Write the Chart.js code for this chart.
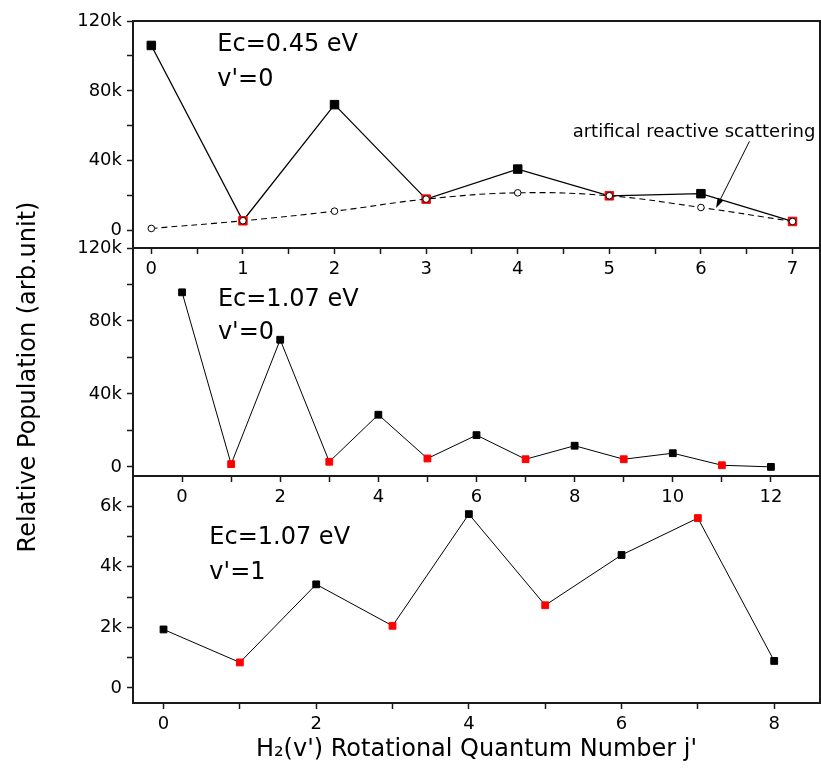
<!DOCTYPE html>
<html>
<head>
<meta charset="utf-8">
<script src="https://cdn.jsdelivr.net/npm/chart.js@4.4.1/dist/chart.umd.min.js"></script>
<style>
  html, body { margin: 0; padding: 0; background: #fff; }
  #wrap { position: relative; width: 821px; height: 784px; }
  #wrap canvas { position: absolute; left: 0; top: 0; }
</style>
</head>
<body>
<div id="wrap">
  <canvas id="low" width="821" height="784"></canvas>
  <canvas id="mid" width="821" height="784"></canvas>
  <canvas id="top" width="821" height="784"></canvas>
</div>
<script>
// Ec=0.45 eV, v'=0
const jTop = [0, 1, 2, 3, 4, 5, 6, 7];
const popTop = [106000, 5600, 72100, 18000, 35200, 19900, 21100, 5200];
const artificialTop = [1200, 5600, 11100, 18000, 21600, 19900, 13200, 5200];

// Ec=1.07 eV, v'=0
const jMid = [0, 1, 2, 3, 4, 5, 6, 7, 8, 9, 10, 11, 12];
const popMid = [95700, 1500, 69700, 2800, 28600, 4600, 17400, 4200, 11600, 4200, 7500, 900, 0];

// Ec=1.07 eV, v'=1
const jLow = [0, 1, 2, 3, 4, 5, 6, 7, 8];
const popLow = [1930, 840, 3420, 2050, 5740, 2730, 4390, 5610, 890];

// all tick positions, and the ones that get a label
const xTicksTop = [0, 0.5, 1, 1.5, 2, 2.5, 3, 3.5, 4, 4.5, 5, 5.5, 6, 6.5, 7];
const xLabelsTop = [0, 1, 2, 3, 4, 5, 6, 7];
const yTicksTop = [0, 20000, 40000, 60000, 80000, 100000, 120000];
const yLabelsTop = [0, 40000, 80000, 120000];

const xTicksMid = [0, 1, 2, 3, 4, 5, 6, 7, 8, 9, 10, 11, 12];
const xLabelsMid = [0, 2, 4, 6, 8, 10, 12];
const yTicksMid = [0, 20000, 40000, 60000, 80000, 100000, 120000];
const yLabelsMid = [0, 40000, 80000, 120000];

const xTicksLow = [0, 1, 2, 3, 4, 5, 6, 7, 8];
const xLabelsLow = [0, 2, 4, 6, 8];
const yTicksLow = [0, 1000, 2000, 3000, 4000, 5000, 6000];
const yLabelsLow = [0, 2000, 4000, 6000];

const FONT = '"DejaVu Sans", sans-serif';
const INK = '#1a1a1a';
const RED = '#ff0000';

Chart.defaults.font.family = FONT;
Chart.defaults.color = '#000';

function toPoints(xs, ys) {
    return xs.map((x, i) => ({ x: x, y: ys[i] }));
}

// odd j are drawn red, even j black
function parityColors(xs) {
    return xs.map(j => (j % 2 ? RED : '#000'));
}

function kLabel(v) {
    return v === 0 ? '0' : (v / 1000) + 'k';
}

// top and right edges of the box, left/bottom come from the axes
const framePlugin = {
    id: 'frame',
    afterDatasetsDraw(chart) {
        const { ctx, chartArea: a } = chart;
        ctx.save();
        ctx.strokeStyle = INK;
        ctx.lineWidth = 2;
        ctx.beginPath();
        ctx.moveTo(a.left, a.top);
        ctx.lineTo(a.right, a.top);
        ctx.lineTo(a.right, a.bottom);
        ctx.stroke();
        ctx.restore();
    }
};

// text notes and arrows placed in data coordinates
function notesPlugin(notes) {
    return {
        id: 'notes',
        afterDraw(chart) {
            const { ctx, scales: { x, y } } = chart;
            ctx.save();
            ctx.fillStyle = '#000';
            ctx.strokeStyle = '#000';
            ctx.textBaseline = 'alphabetic';
            (notes.texts || []).forEach(t => {
                ctx.font = `${t.size}px ${FONT}`;
                ctx.fillText(t.text, x.getPixelForValue(t.x), y.getPixelForValue(t.y));
            });
            (notes.arrows || []).forEach(a => {
                const x0 = x.getPixelForValue(a.from[0]), y0 = y.getPixelForValue(a.from[1]);
                const x1 = x.getPixelForValue(a.to[0]), y1 = y.getPixelForValue(a.to[1]);
                const ang = Math.atan2(y1 - y0, x1 - x0);
                ctx.lineWidth = 1;
                ctx.beginPath();
                ctx.moveTo(x0, y0);
                ctx.lineTo(x1 - 8 * Math.cos(ang), y1 - 8 * Math.sin(ang));
                ctx.stroke();
                ctx.beginPath();
                ctx.moveTo(x1, y1);
                ctx.lineTo(x1 - 10 * Math.cos(ang) + 3.2 * Math.sin(ang), y1 - 10 * Math.sin(ang) - 3.2 * Math.cos(ang));
                ctx.lineTo(x1 - 10 * Math.cos(ang) - 3.2 * Math.sin(ang), y1 - 10 * Math.sin(ang) + 3.2 * Math.cos(ang));
                ctx.closePath();
                ctx.fill();
            });
            if (notes.yTitle) {
                // shared y title for the three panels
                ctx.font = `24px ${FONT}`;
                ctx.textAlign = 'center';
                ctx.translate(notes.yTitle.px, notes.yTitle.py);
                ctx.rotate(-Math.PI / 2);
                ctx.fillText(notes.yTitle.text, 0, 0);
            }
            ctx.restore();
        }
    };
}

function makePanel(id, cfg) {
    return new Chart(document.getElementById(id), {
        type: 'line',
        data: { datasets: cfg.datasets },
        options: {
            responsive: false,
            animation: false,
            devicePixelRatio: 1,
            layout: {
                autoPadding: false,
                padding: { left: 0, right: 1, top: cfg.top, bottom: cfg.bottom }
            },
            plugins: {
                legend: { display: false },
                tooltip: { enabled: false }
            },
            scales: {
                x: {
                    type: 'linear',
                    bounds: 'data',
                    min: cfg.xMin,
                    max: cfg.xMax,
                    afterBuildTicks: s => { s.ticks = cfg.xTicks.map(v => ({ value: v })); },
                    afterFit: s => { s.height = cfg.xHeight; },
                    ticks: {
                        autoSkip: false,
                        maxRotation: 0,
                        padding: 5,
                        font: { size: 18 },
                        color: '#000',
                        callback: v => (cfg.xLabels.includes(v) ? String(v) : '')
                    },
                    grid: { drawOnChartArea: false, tickLength: 6, tickWidth: 1.5, tickColor: INK },
                    border: { width: 2, color: INK },
                    title: cfg.xTitle || { display: false }
                },
                y: {
                    type: 'linear',
                    bounds: 'data',
                    min: cfg.yMin,
                    max: cfg.yMax,
                    afterBuildTicks: s => { s.ticks = cfg.yTicks.map(v => ({ value: v })); },
                    afterFit: s => { s.width = 133; },
                    ticks: {
                        autoSkip: false,
                        padding: 5,
                        font: { size: 18 },
                        color: '#000',
                        callback: v => (cfg.yLabels.includes(v) ? kLabel(v) : '')
                    },
                    grid: { drawOnChartArea: false, tickLength: 6, tickWidth: 1.5, tickColor: INK },
                    border: { width: 2, color: INK }
                }
            }
        },
        plugins: [framePlugin, notesPlugin(cfg.notes)]
    });
}

// top panel
makePanel('top', {
    top: 21, bottom: 496, xHeight: 40,
    xMin: -0.2, xMax: 7.3, yMin: -10000, yMax: 120000,
    xTicks: xTicksTop, xLabels: xLabelsTop, yTicks: yTicksTop, yLabels: yLabelsTop,
    datasets: [
        {
            data: toPoints(jTop, artificialTop),
            borderColor: '#000',
            borderWidth: 1.1,
            borderDash: [6, 4],
            tension: 0.4,
            pointStyle: 'circle',
            pointRadius: 3.3,
            pointBorderWidth: 1,
            pointBackgroundColor: '#fff',
            pointBorderColor: '#000'
        },
        {
            data: toPoints(jTop, popTop),
            borderColor: '#000',
            borderWidth: 1.3,
            tension: 0,
            pointStyle: 'rect',
            pointRadius: 6,
            pointBorderWidth: 1,
            pointBackgroundColor: parityColors(jTop),
            pointBorderColor: parityColors(jTop)
        }
    ],
    notes: {
        texts: [
            { text: 'Ec=0.45 eV', x: 0.72, y: 102600, size: 24 },
            { text: "v'=0", x: 0.72, y: 83000, size: 24 },
            { text: 'artifical reactive scattering', x: 4.6, y: 53800, size: 18 }
        ],
        arrows: [{ from: [6.53, 51100], to: [6.165, 12900] }]
    }
});

// middle panel
makePanel('mid', {
    top: 248, bottom: 268, xHeight: 40,
    xMin: -1, xMax: 13, yMin: -5000, yMax: 120000,
    xTicks: xTicksMid, xLabels: xLabelsMid, yTicks: yTicksMid, yLabels: yLabelsMid,
    datasets: [
        {
            data: toPoints(jMid, popMid),
            borderColor: '#000',
            borderWidth: 1,
            tension: 0,
            pointStyle: 'rect',
            pointRadius: 4.8,
            pointBorderWidth: 1,
            pointBackgroundColor: parityColors(jMid),
            pointBorderColor: parityColors(jMid)
        }
    ],
    notes: {
        texts: [
            { text: 'Ec=1.07 eV', x: 0.73, y: 88000, size: 24 },
            { text: "v'=0", x: 0.73, y: 70100, size: 24 }
        ]
    }
});

// bottom panel
makePanel('low', {
    top: 476, bottom: 0, xHeight: 81,
    xMin: -0.4, xMax: 8.6, yMin: -500, yMax: 7000,
    xTicks: xTicksLow, xLabels: xLabelsLow, yTicks: yTicksLow, yLabels: yLabelsLow,
    xTitle: {
        display: true,
        text: "H\u2082(v') Rotational Quantum Number j'",
        color: '#000',
        font: { size: 24 },
        padding: { top: 0, bottom: 20 }
    },
    datasets: [
        {
            data: toPoints(jLow, popLow),
            borderColor: '#000',
            borderWidth: 1,
            tension: 0,
            pointStyle: 'rect',
            pointRadius: 4.8,
            pointBorderWidth: 1,
            pointBackgroundColor: parityColors(jLow),
            pointBorderColor: parityColors(jLow)
        }
    ],
    notes: {
        texts: [
            { text: 'Ec=1.07 eV', x: 0.6, y: 4750, size: 24 },
            { text: "v'=1", x: 0.6, y: 3610, size: 24 }
        ],
        yTitle: { text: 'Relative Population (arb.unit)', px: 35, py: 377 }
    }
});
</script>
</body>
</html>
